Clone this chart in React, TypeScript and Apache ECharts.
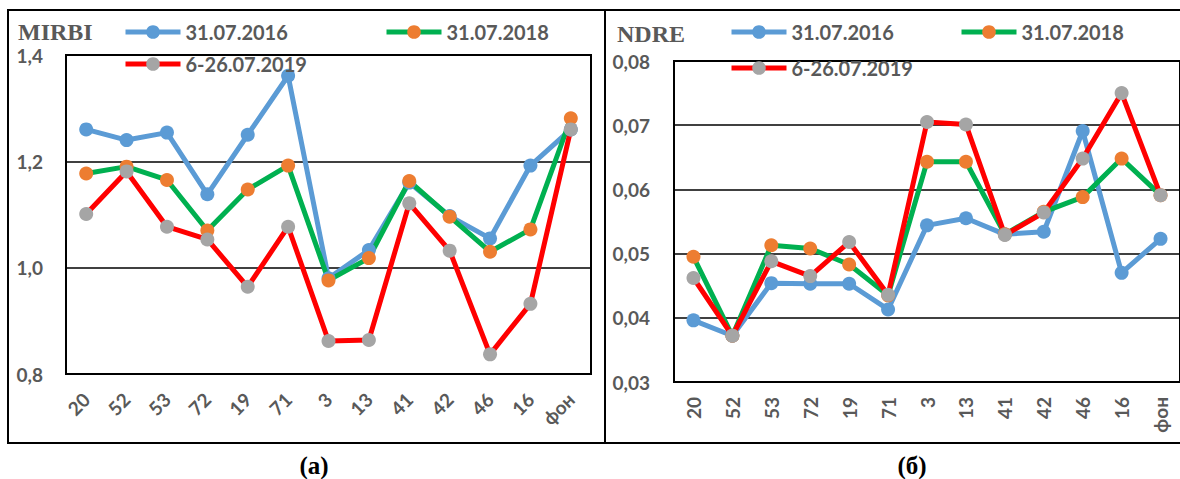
import React, { useEffect, useRef } from "react";
import * as echarts from "echarts";

const categories = ["20", "52", "53", "72", "19", "71", "3", "13", "41", "42", "46", "16", "фон"];
const seriesNames = ["31.07.2016", "31.07.2018", "6-26.07.2019"];

const mirbi2016 = [1.26, 1.24, 1.254, 1.138, 1.25, 1.361, 0.98, 1.033, 1.16, 1.097, 1.055, 1.192, 1.26];
const mirbi2018 = [1.177, 1.19, 1.165, 1.07, 1.147, 1.192, 0.976, 1.018, 1.163, 1.096, 1.03, 1.072, 1.281];
const mirbi2019 = [1.101, 1.181, 1.077, 1.053, 0.964, 1.077, 0.862, 0.864, 1.121, 1.032, 0.837, 0.932, 1.26];

const ndre2016 = [0.0396, 0.0372, 0.0454, 0.0453, 0.0453, 0.0413, 0.0544, 0.0555, 0.053, 0.0534, 0.0691, 0.047, 0.0523];
const ndre2018 = [0.0495, 0.0372, 0.0513, 0.0508, 0.0483, 0.0435, 0.0643, 0.0643, 0.053, 0.0565, 0.0588, 0.0648, 0.0591];
const ndre2019 = [0.0462, 0.0372, 0.0488, 0.0465, 0.0518, 0.0436, 0.0705, 0.0701, 0.0529, 0.0564, 0.0648, 0.075, 0.0591];

const lineColors = ["#5B9BD5", "#00B050", "#FF0000"];
const markerColors = ["#5B9BD5", "#ED7D31", "#A5A5A5"];

const textGray = "#595959";
const labelFont = { fontFamily: "Lato", fontWeight: "bold" as const, color: textGray };

export default function App() {
  const ref = useRef<HTMLDivElement>(null);
  useEffect(() => {
    if (!ref.current) return;
    const chart = echarts.init(ref.current, undefined, { renderer: "svg" });

    const mkSeries = (data: number[], i: number, axis: number) => ({
      type: "line",
      name: seriesNames[i],
      xAxisIndex: axis,
      yAxisIndex: axis,
      data,
      symbol: "circle",
      symbolSize: 14,
      lineStyle: { width: 5, color: lineColors[i] },
      itemStyle: { color: markerColors[i] },
      emphasis: { disabled: true },
    });

    const legendBase = {
      orient: "horizontal",
      padding: 0,
      itemWidth: 55,
      itemHeight: 17,
      selectedMode: false,
      lineStyle: { width: 5 },
      textStyle: { ...labelFont, fontSize: 20 },
    };

    const yAxisCommon = {
      type: "value",
      axisTick: { show: false },
      axisLine: { show: true, lineStyle: { color: "#000", width: 2 } },
      splitLine: { show: true, lineStyle: { color: "#000", width: 1.5 } },
    };

    const xAxisCommon = {
      type: "category",
      data: categories,
      boundaryGap: true,
      axisTick: { show: false },
      axisLine: { show: true, lineStyle: { color: "#000", width: 2 } },
    };

    chart.setOption({
      animation: false,
      backgroundColor: "#fff",
      grid: [
        { left: 66, top: 55, width: 525, height: 319, show: true, borderColor: "#000", borderWidth: 2, containLabel: false },
        { left: 674, top: 61, width: 518, height: 321, show: true, borderColor: "#000", borderWidth: 2, containLabel: false },
      ],
      xAxis: [
        { ...xAxisCommon, gridIndex: 0, axisLabel: { ...labelFont, fontSize: 19, rotate: 45, margin: 22, interval: 0 } },
        { ...xAxisCommon, gridIndex: 1, axisLabel: { ...labelFont, fontSize: 19, rotate: 90, margin: 15, interval: 0 } },
      ],
      yAxis: [
        {
          ...yAxisCommon,
          gridIndex: 0,
          min: 0.8,
          max: 1.4,
          interval: 0.2,
          axisLabel: { ...labelFont, fontSize: 19, margin: 23, formatter: (v: number) => v.toFixed(1).replace(".", ",") },
        },
        {
          ...yAxisCommon,
          gridIndex: 1,
          min: 0.03,
          max: 0.08,
          interval: 0.01,
          axisLabel: { ...labelFont, fontSize: 19, margin: 24, formatter: (v: number) => v.toFixed(2).replace(".", ",") },
        },
      ],
      legend: [
        { ...legendBase, data: [seriesNames[0]], left: 123, top: 22 },
        { ...legendBase, data: [seriesNames[1]], left: 384, top: 22 },
        { ...legendBase, data: [seriesNames[2]], left: 123, top: 54 },
        { ...legendBase, data: [seriesNames[0]], left: 729, top: 22 },
        { ...legendBase, data: [seriesNames[1]], left: 959, top: 22 },
        { ...legendBase, data: [seriesNames[2]], left: 729, top: 58 },
      ],
      series: [
        mkSeries(mirbi2016, 0, 0),
        mkSeries(mirbi2018, 1, 0),
        mkSeries(mirbi2019, 2, 0),
        mkSeries(ndre2016, 0, 1),
        mkSeries(ndre2018, 1, 1),
        mkSeries(ndre2019, 2, 1),
      ],
      graphic: [
        { type: "rect", shape: { x: 8, y: 10, width: 597, height: 433 }, style: { fill: "none", stroke: "#000", lineWidth: 2 }, silent: true },
        { type: "rect", shape: { x: 605, y: 10, width: 620, height: 433 }, style: { fill: "none", stroke: "#000", lineWidth: 2 }, silent: true },
        { type: "text", x: 18, y: 32, style: { text: "MIRBI", font: "bold 24px 'Liberation Serif', serif", fill: textGray, verticalAlign: "middle" } },
        { type: "text", x: 617, y: 34, style: { text: "NDRE", font: "bold 24px 'Liberation Serif', serif", fill: textGray, verticalAlign: "middle" } },
        { type: "text", x: 314, y: 465, style: { text: "(a)", font: "bold 25px 'Liberation Serif', serif", fill: "#000", align: "center", verticalAlign: "middle" } },
        { type: "text", x: 912, y: 465, style: { text: "(б)", font: "bold 25px 'Liberation Serif', serif", fill: "#000", align: "center", verticalAlign: "middle" } },
      ],
    });
    return () => chart.dispose();
  }, []);
  return <div ref={ref} style={{ position: "fixed", left: 0, top: 0, width: 1180, height: 479, background: "#fff" }} />;
}
